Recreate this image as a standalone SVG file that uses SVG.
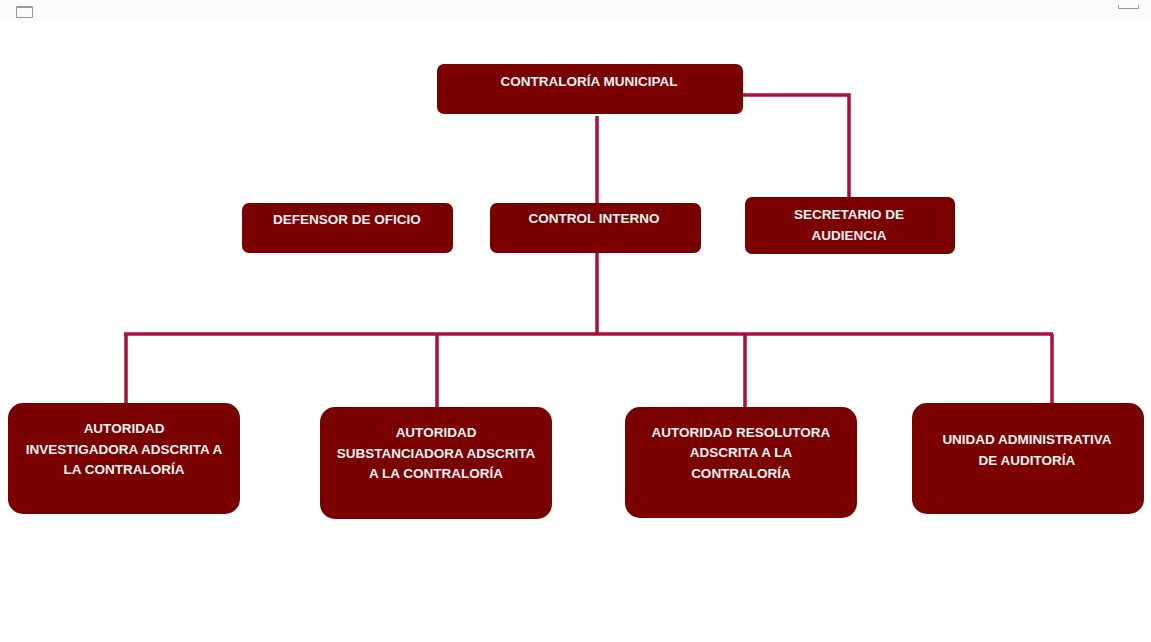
<svg xmlns="http://www.w3.org/2000/svg" width="1151" height="642" viewBox="0 0 1151 642">
  <style>
    .box { fill: #7a0000; }
    .lbl { font-family: "Liberation Sans", Arial, sans-serif; font-weight: bold; font-size: 13.5px; fill: #f2f2f2; text-anchor: middle; }
    .conn { fill: none; stroke: #a8123a; stroke-width: 3.5; }
  </style>
  <rect x="0" y="0" width="1151" height="642" fill="#ffffff"/>
  <rect x="0" y="0" width="1151" height="18" fill="#fbfbfb"/>
  <g id="ui-icons" fill="none" stroke="#9a9a9a" stroke-width="1">
    <rect x="16.5" y="7.5" width="16" height="10"/>
    <line x1="16.5" y1="6.5" x2="32.5" y2="6.5"/>
    <path d="M1118.5 5 V8.5 H1138.5 V5"/>
  </g>
  <g id="connectors">
    <line class="conn" x1="597" y1="116" x2="597" y2="203"/>
    <polyline class="conn" points="743,95 849,95 849,197"/>
    <line class="conn" x1="597" y1="253" x2="597" y2="334"/>
    <line class="conn" x1="124" y1="334" x2="1053" y2="334"/>
    <line class="conn" x1="126" y1="334" x2="126" y2="403"/>
    <line class="conn" x1="437" y1="334" x2="437" y2="407"/>
    <line class="conn" x1="745" y1="334" x2="745" y2="407"/>
    <line class="conn" x1="1052" y1="334" x2="1052" y2="403"/>
  </g>
  <g id="contraloria-municipal">
    <rect class="box" x="437" y="64" width="306" height="50" rx="7"/>
    <text class="lbl" x="589" y="86">CONTRALORÍA MUNICIPAL</text>
  </g>
  <g id="defensor-de-oficio">
    <rect class="box" x="242" y="203" width="211" height="50" rx="7"/>
    <text class="lbl" x="347" y="224">DEFENSOR DE OFICIO</text>
  </g>
  <g id="control-interno">
    <rect class="box" x="490" y="203" width="211" height="50" rx="7"/>
    <text class="lbl" x="594" y="223">CONTROL INTERNO</text>
  </g>
  <g id="secretario-de-audiencia">
    <rect class="box" x="745" y="197" width="210" height="57" rx="7"/>
    <text class="lbl" x="849" y="219">SECRETARIO DE</text>
    <text class="lbl" x="849" y="240">AUDIENCIA</text>
  </g>
  <g id="autoridad-investigadora">
    <rect class="box" x="8" y="403" width="232" height="111" rx="15"/>
    <text class="lbl" x="124" y="433">AUTORIDAD</text>
    <text class="lbl" x="124" y="454">INVESTIGADORA ADSCRITA A</text>
    <text class="lbl" x="124" y="474">LA CONTRALORÍA</text>
  </g>
  <g id="autoridad-substanciadora">
    <rect class="box" x="320" y="407" width="232" height="112" rx="15"/>
    <text class="lbl" x="436" y="437">AUTORIDAD</text>
    <text class="lbl" x="436" y="458">SUBSTANCIADORA ADSCRITA</text>
    <text class="lbl" x="436" y="478">A LA CONTRALORÍA</text>
  </g>
  <g id="autoridad-resolutora">
    <rect class="box" x="625" y="407" width="232" height="111" rx="15"/>
    <text class="lbl" x="741" y="437">AUTORIDAD RESOLUTORA</text>
    <text class="lbl" x="741" y="457">ADSCRITA A LA</text>
    <text class="lbl" x="741" y="478">CONTRALORÍA</text>
  </g>
  <g id="unidad-administrativa">
    <rect class="box" x="912" y="403" width="232" height="111" rx="15"/>
    <text class="lbl" x="1027" y="444">UNIDAD ADMINISTRATIVA</text>
    <text class="lbl" x="1027" y="465">DE AUDITORÍA</text>
  </g>
</svg>
